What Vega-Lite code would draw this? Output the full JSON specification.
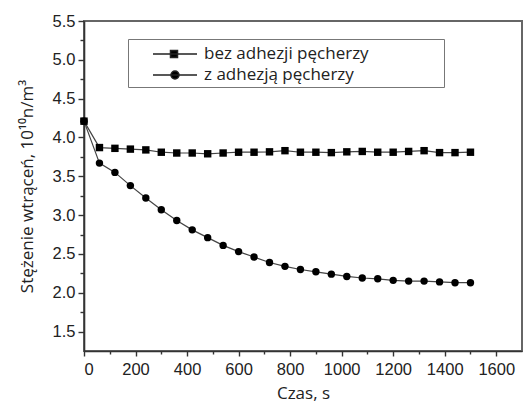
{
  "$schema": "https://vega.github.io/schema/vega-lite/v6.json",
  "width": 438,
  "height": 330,
  "autosize": {"type": "none"},
  "padding": {"left": 84, "top": 21, "right": 2, "bottom": 61},
  "background": "white",
  "config": {
    "view": {"stroke": "#666", "strokeWidth": 2},
    "axis": {"grid": false, "domainColor": "#333", "domainWidth": 1.6, "tickColor": "#333", "tickWidth": 1.4,
             "labelFont": "Liberation Sans", "labelFontSize": 16.5, "labelColor": "#222",
             "titleFont": "Open Sans", "titleFontSize": 17, "titleFontWeight": "normal", "titleColor": "#222"}
  },
  "data": {"values": [
    {"t": 0, "v": 4.21, "s": "bez adhezji pęcherzy"},
    {"t": 60, "v": 3.87, "s": "bez adhezji pęcherzy"},
    {"t": 120, "v": 3.86, "s": "bez adhezji pęcherzy"},
    {"t": 180, "v": 3.85, "s": "bez adhezji pęcherzy"},
    {"t": 240, "v": 3.84, "s": "bez adhezji pęcherzy"},
    {"t": 300, "v": 3.81, "s": "bez adhezji pęcherzy"},
    {"t": 360, "v": 3.80, "s": "bez adhezji pęcherzy"},
    {"t": 420, "v": 3.80, "s": "bez adhezji pęcherzy"},
    {"t": 480, "v": 3.79, "s": "bez adhezji pęcherzy"},
    {"t": 540, "v": 3.80, "s": "bez adhezji pęcherzy"},
    {"t": 600, "v": 3.81, "s": "bez adhezji pęcherzy"},
    {"t": 660, "v": 3.81, "s": "bez adhezji pęcherzy"},
    {"t": 720, "v": 3.815, "s": "bez adhezji pęcherzy"},
    {"t": 780, "v": 3.83, "s": "bez adhezji pęcherzy"},
    {"t": 840, "v": 3.81, "s": "bez adhezji pęcherzy"},
    {"t": 900, "v": 3.81, "s": "bez adhezji pęcherzy"},
    {"t": 960, "v": 3.805, "s": "bez adhezji pęcherzy"},
    {"t": 1020, "v": 3.815, "s": "bez adhezji pęcherzy"},
    {"t": 1080, "v": 3.82, "s": "bez adhezji pęcherzy"},
    {"t": 1140, "v": 3.81, "s": "bez adhezji pęcherzy"},
    {"t": 1200, "v": 3.81, "s": "bez adhezji pęcherzy"},
    {"t": 1260, "v": 3.82, "s": "bez adhezji pęcherzy"},
    {"t": 1320, "v": 3.83, "s": "bez adhezji pęcherzy"},
    {"t": 1380, "v": 3.805, "s": "bez adhezji pęcherzy"},
    {"t": 1440, "v": 3.805, "s": "bez adhezji pęcherzy"},
    {"t": 1500, "v": 3.81, "s": "bez adhezji pęcherzy"},
    {"t": 0, "v": 4.21, "s": "z adhezją pęcherzy"},
    {"t": 60, "v": 3.67, "s": "z adhezją pęcherzy"},
    {"t": 120, "v": 3.55, "s": "z adhezją pęcherzy"},
    {"t": 180, "v": 3.38, "s": "z adhezją pęcherzy"},
    {"t": 240, "v": 3.22, "s": "z adhezją pęcherzy"},
    {"t": 300, "v": 3.07, "s": "z adhezją pęcherzy"},
    {"t": 360, "v": 2.93, "s": "z adhezją pęcherzy"},
    {"t": 420, "v": 2.81, "s": "z adhezją pęcherzy"},
    {"t": 480, "v": 2.71, "s": "z adhezją pęcherzy"},
    {"t": 540, "v": 2.61, "s": "z adhezją pęcherzy"},
    {"t": 600, "v": 2.53, "s": "z adhezją pęcherzy"},
    {"t": 660, "v": 2.46, "s": "z adhezją pęcherzy"},
    {"t": 720, "v": 2.39, "s": "z adhezją pęcherzy"},
    {"t": 780, "v": 2.34, "s": "z adhezją pęcherzy"},
    {"t": 840, "v": 2.30, "s": "z adhezją pęcherzy"},
    {"t": 900, "v": 2.27, "s": "z adhezją pęcherzy"},
    {"t": 960, "v": 2.24, "s": "z adhezją pęcherzy"},
    {"t": 1020, "v": 2.21, "s": "z adhezją pęcherzy"},
    {"t": 1080, "v": 2.19, "s": "z adhezją pęcherzy"},
    {"t": 1140, "v": 2.18, "s": "z adhezją pęcherzy"},
    {"t": 1200, "v": 2.16, "s": "z adhezją pęcherzy"},
    {"t": 1260, "v": 2.15, "s": "z adhezją pęcherzy"},
    {"t": 1320, "v": 2.15, "s": "z adhezją pęcherzy"},
    {"t": 1380, "v": 2.14, "s": "z adhezją pęcherzy"},
    {"t": 1440, "v": 2.13, "s": "z adhezją pęcherzy"},
    {"t": 1500, "v": 2.13, "s": "z adhezją pęcherzy"}
  ]},
  "encoding": {
    "x": {"field": "t", "type": "quantitative", "scale": {"domain": [0, 1700], "nice": false},
          "axis": {"values": [0, 100, 200, 300, 400, 500, 600, 700, 800, 900, 1000, 1100, 1200, 1300, 1400, 1500, 1600],
                   "format": "d", "labelExpr": "datum.value % 200 === 0 ? datum.label : ''",
                   "tickSize": {"condition": {"test": "datum.value % 200 === 0", "value": 5}, "value": 3},
                   "title": "Czas, s", "labelPadding": 5, "titlePadding": 8}},
    "y": {"field": "v", "type": "quantitative", "scale": {"domain": [1.25, 5.5], "nice": false, "zero": false},
          "axis": {"values": [1.5, 1.75, 2, 2.25, 2.5, 2.75, 3, 3.25, 3.5, 3.75, 4, 4.25, 4.5, 4.75, 5, 5.25, 5.5],
                   "format": ".1f", "labelExpr": "abs(datum.value * 2 - round(datum.value * 2)) < 0.01 ? datum.label : ''",
                   "tickSize": {"condition": {"test": "abs(datum.value * 2 - round(datum.value * 2)) < 0.01", "value": 6}, "value": 4},
                   "title": "Stężenie wtrąceń,  10¹⁰n/m³", "labelPadding": 3, "titlePadding": 16}}
  },
  "layer": [
    {
      "mark": {"type": "line", "color": "#444", "strokeWidth": 1.2},
      "encoding": {"detail": {"field": "s"}}
    },
    {
      "mark": {"type": "point", "filled": true, "color": "black", "opacity": 1, "size": 55},
      "encoding": {
        "shape": {"field": "s", "type": "nominal",
                  "scale": {"domain": ["bez adhezji pęcherzy", "z adhezją pęcherzy"], "range": ["square", "circle"]},
                  "legend": null}
      }
    },
    {
      "transform": [{"filter": "datum.t < 0"}],
      "mark": {"type": "point", "filled": true, "color": "black", "stroke": "#222", "strokeWidth": 1.3, "opacity": 1},
      "encoding": {
        "shape": {"field": "s", "type": "nominal",
                  "scale": {"domain": ["bez adhezji pęcherzy", "z adhezją pęcherzy"],
                            "range": ["M1.0,0H5.4M2.75,-0.35H3.45V0.35H2.75Z", "M3.6,0A0.4,0.4,0,1,1,2.8,0A0.4,0.4,0,1,1,3.6,0Z M1.0,0H5.4"]},
                  "legend": {
                    "title": "\u2800\u2800\u2800\u2800\u2800\u2800",
                    "titleOrient": "right", "titleFont": "DejaVu Sans", "titleFontSize": 15, "titlePadding": 0, "titleColor": "white",
                    "orient": "none", "legendX": 44, "legendY": 18,
                    "strokeColor": "#777", "fillColor": "white", "padding": 4,
                    "labelFont": "Open Sans", "labelFontSize": 17, "labelColor": "#222", "labelOffset": 50,
                    "labelLimit": 500,
                    "symbolSize": 400, "rowPadding": 2,
                    "encode": {"legend": {"update": {"strokeWidth": {"value": 1.5}}}}
                  }}
      }
    }
  ],
  "resolve": {"scale": {"shape": "independent"}}
}
